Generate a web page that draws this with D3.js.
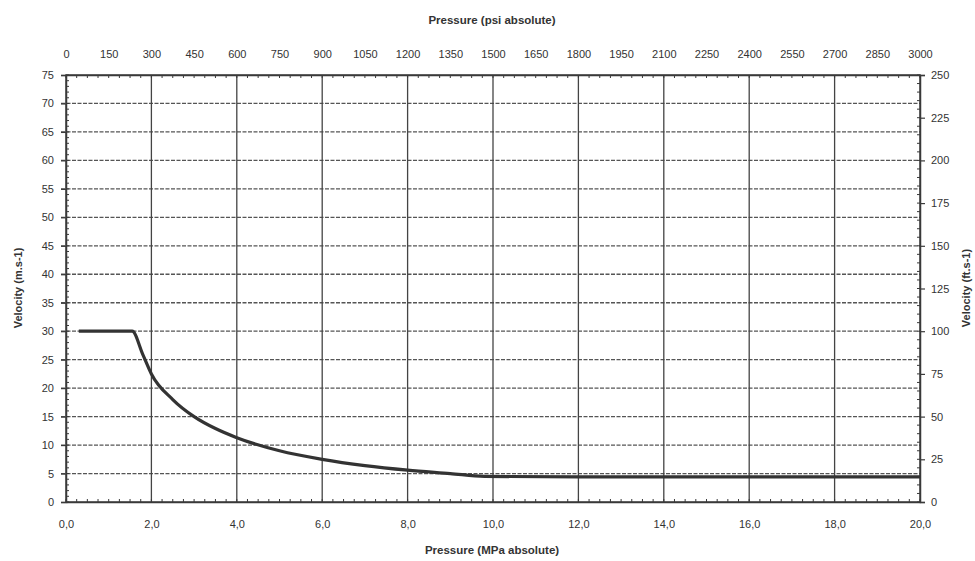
<!DOCTYPE html>
<html>
<head>
<meta charset="utf-8">
<script src="https://cdn.jsdelivr.net/npm/d3@7"></script>
<style>
  body { margin: 0; background: #fff; }
  svg { font-family: "Liberation Sans", Arial, sans-serif; }
</style>
</head>
<body>
<svg id="chart" width="975" height="561"></svg>
<script>
// pressure in MPa absolute, velocity in m/s
const pressure = [0.3, 0.8, 1.2, 1.55, 1.8, 2.0, 2.5, 3.0, 3.5, 4.0, 5.0, 6.0, 7.0, 8.0, 9.0, 9.8, 12.0, 14.0, 16.0, 18.0, 20.0];
const velocity = [30.0, 30.0, 30.0, 30.0, 25.9, 22.5, 18.0, 15.0, 12.9, 11.3, 9.0, 7.5, 6.4, 5.6, 5.0, 4.5, 4.4, 4.4, 4.4, 4.4, 4.4];

const mpaTicks = [0, 2, 4, 6, 8, 10, 12, 14, 16, 18, 20];
const psiTicks = [0, 150, 300, 450, 600, 750, 900, 1050, 1200, 1350, 1500, 1650, 1800, 1950, 2100, 2250, 2400, 2550, 2700, 2850, 3000];
const msTicks = [0, 5, 10, 15, 20, 25, 30, 35, 40, 45, 50, 55, 60, 65, 70, 75];
const ftTicks = [0, 25, 50, 75, 100, 125, 150, 175, 200, 225, 250];

const svg = d3.select("#chart");
const pl = 66, pr = 920, pt = 75, pb = 502;
const ink = "#3a3a3a";

const x = d3.scaleLinear().domain([0, 20]).range([pl, pr]);
const xPsi = d3.scaleLinear().domain([0, 3000]).range([pl, pr]);
const y = d3.scaleLinear().domain([0, 75]).range([pb, pt]);
const yFt = d3.scaleLinear().domain([0, 250]).range([pb, pt]);

// horizontal grid (dotted)
svg.append("g").selectAll("line").data(msTicks.slice(1, -1)).enter().append("line")
    .attr("x1", pl - 5).attr("x2", pr)
    .attr("y1", d => y(d)).attr("y2", d => y(d))
    .attr("stroke", "#555").attr("stroke-width", 1.3).attr("stroke-dasharray", "4,1.5");

// vertical grid
svg.append("g").selectAll("line").data(mpaTicks.slice(1, -1)).enter().append("line")
    .attr("x1", d => x(d)).attr("x2", d => x(d))
    .attr("y1", pt).attr("y2", pb)
    .attr("stroke", "#444").attr("stroke-width", 1.3);

// minor ticks inside the frame
const minorX = d3.range(0, 20.01, 0.25);
svg.append("g").selectAll("line").data(minorX).enter().append("line")
    .attr("x1", d => x(d)).attr("x2", d => x(d)).attr("y1", pb).attr("y2", pb - 3)
    .attr("stroke", ink).attr("stroke-width", 1);
svg.append("g").selectAll("line").data(minorX).enter().append("line")
    .attr("x1", d => x(d)).attr("x2", d => x(d)).attr("y1", pt).attr("y2", pt + 3)
    .attr("stroke", ink).attr("stroke-width", 1);
svg.append("g").selectAll("line").data(d3.range(0, 75.01, 1)).enter().append("line")
    .attr("x1", pl).attr("x2", pl + 3).attr("y1", d => y(d)).attr("y2", d => y(d))
    .attr("stroke", ink).attr("stroke-width", 1);
svg.append("g").selectAll("line").data(d3.range(0, 250.01, 5)).enter().append("line")
    .attr("x1", pr).attr("x2", pr - 3).attr("y1", d => yFt(d)).attr("y2", d => yFt(d))
    .attr("stroke", ink).attr("stroke-width", 1);

// axes
const bottomAxis = svg.append("g").attr("transform", `translate(0,${pb})`)
    .call(d3.axisBottom(x).tickValues(mpaTicks).tickSize(0).tickPadding(18)
        .tickFormat(d => d3.format(".1f")(d).replace(".", ",")));
const topAxis = svg.append("g").attr("transform", `translate(0,${pt})`)
    .call(d3.axisTop(xPsi).tickValues(psiTicks).tickSize(0).tickPadding(17).tickFormat(d3.format("d")));
const leftAxis = svg.append("g").attr("transform", `translate(${pl},0)`)
    .call(d3.axisLeft(y).tickValues(msTicks).tickSize(5).tickPadding(7));
const rightAxis = svg.append("g").attr("transform", `translate(${pr},0)`)
    .call(d3.axisRight(yFt).tickValues(ftTicks).tickSize(5).tickPadding(6));

[bottomAxis, topAxis, leftAxis, rightAxis].forEach(a => {
    a.select(".domain").attr("stroke", ink).attr("stroke-width", 1.5);
    a.selectAll(".tick line").attr("stroke", ink).attr("stroke-width", 1.2);
    a.selectAll("text").attr("fill", "#333").attr("font-size", 11);
});

// frame
svg.append("rect").attr("x", pl).attr("y", pt)
    .attr("width", pr - pl).attr("height", pb - pt)
    .attr("fill", "none").attr("stroke", ink).attr("stroke-width", 1.5);

// curve
svg.append("path")
    .datum(pressure.map((p, i) => [p, velocity[i]]))
    .attr("fill", "none").attr("stroke", "#333").attr("stroke-width", 3.2)
    .attr("stroke-linejoin", "round")
    .attr("d", d3.line().x(d => x(d[0])).y(d => y(d[1])).curve(d3.curveMonotoneX));

// titles
svg.append("text").attr("x", 492).attr("y", 24).attr("text-anchor", "middle")
    .attr("font-size", 11.5).attr("font-weight", "bold").attr("fill", "#333")
    .text("Pressure (psi absolute)");
svg.append("text").attr("x", 492).attr("y", 554).attr("text-anchor", "middle")
    .attr("font-size", 11.5).attr("font-weight", "bold").attr("fill", "#333")
    .text("Pressure (MPa absolute)");
svg.append("text").attr("transform", "translate(22,288) rotate(-90)").attr("text-anchor", "middle")
    .attr("font-size", 11).attr("font-weight", "bold").attr("fill", "#333")
    .text("Velocity (m.s-1)");
svg.append("text").attr("transform", "translate(970,288) rotate(-90)").attr("text-anchor", "middle")
    .attr("font-size", 11).attr("font-weight", "bold").attr("fill", "#333")
    .text("Velocity (ft.s-1)");
</script>
</body>
</html>
